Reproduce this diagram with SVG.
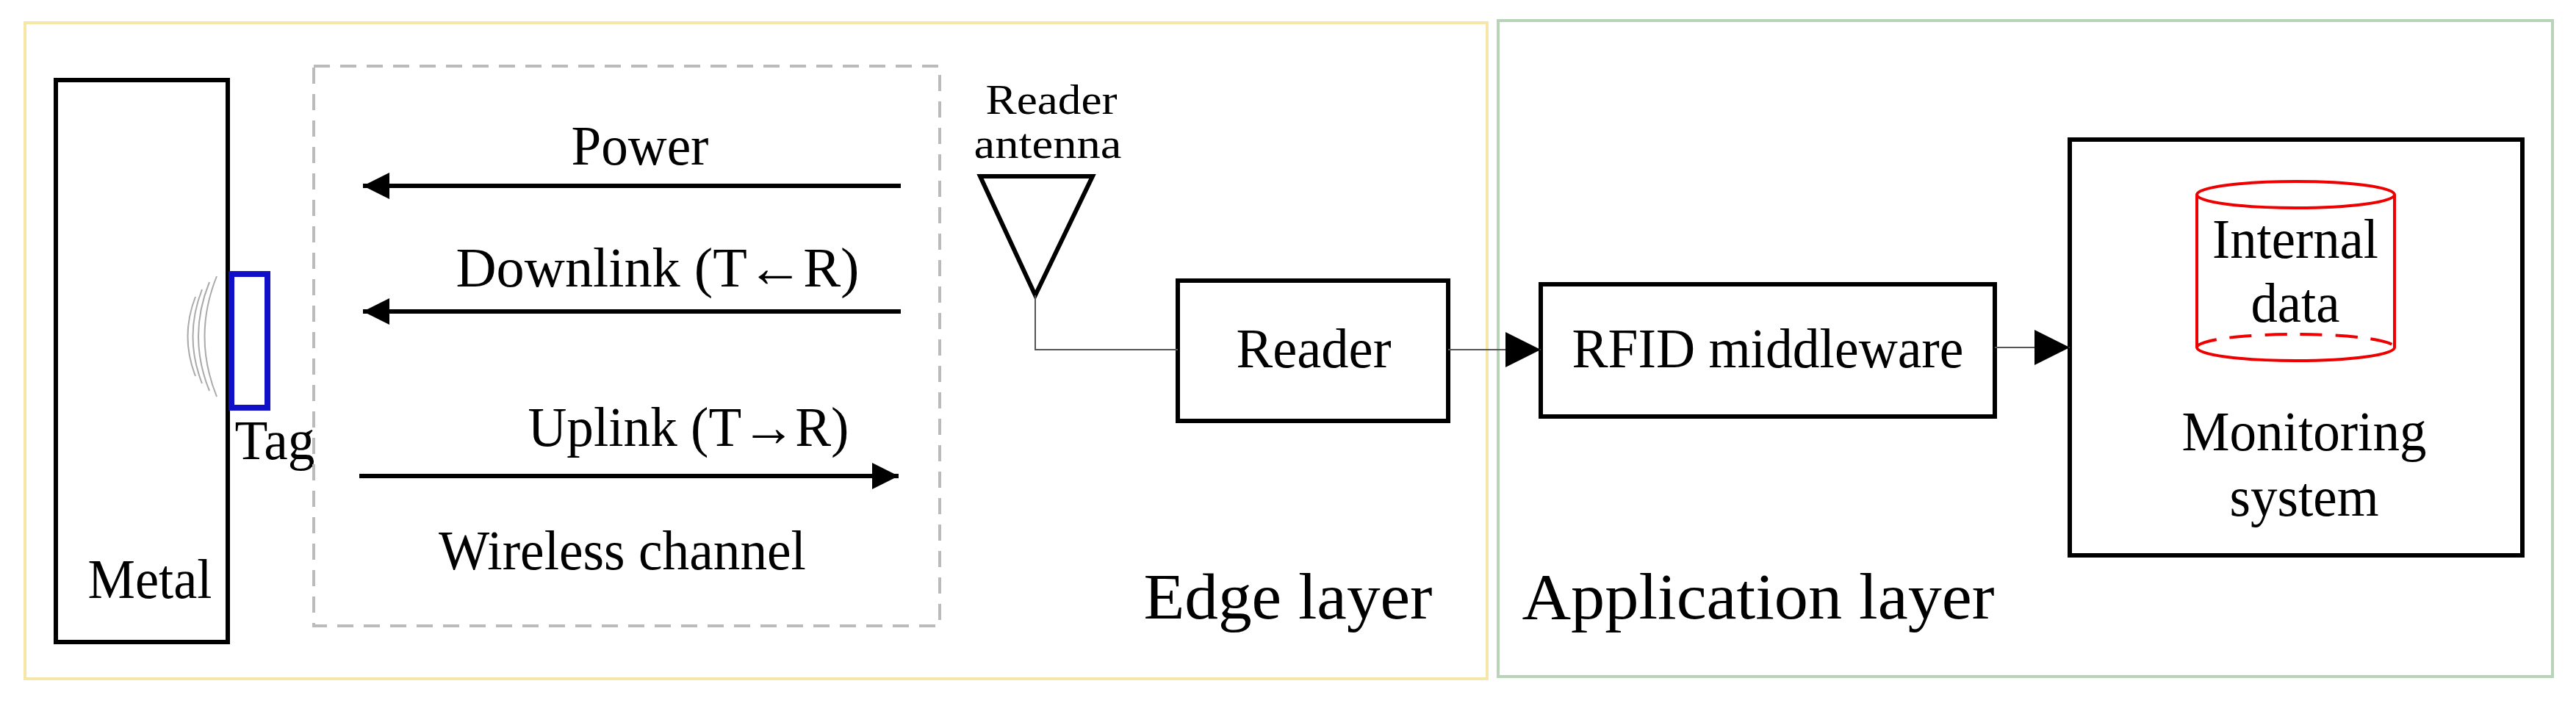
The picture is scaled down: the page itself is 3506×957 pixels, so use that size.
<svg xmlns="http://www.w3.org/2000/svg" width="3506" height="957" viewBox="0 0 3506 957">
<style>
text{font-family:"Liberation Serif","Times New Roman",serif;fill:#000;text-anchor:middle}
.t{font-size:76px}
.box{fill:none;stroke:#000;stroke-width:6}
.thick{stroke:#000;stroke-width:6;fill:none}
.thin{stroke:#555;stroke-width:2;fill:none}
</style>
<defs>
<marker id="ah" viewBox="0 0 10 10" refX="10" refY="5" markerWidth="6" markerHeight="6" markerUnits="strokeWidth" orient="auto"><path d="M0,0L10,5L0,10z" fill="#000"/></marker>
<marker id="ah2" viewBox="0 0 10 10" refX="10" refY="5" markerWidth="24" markerHeight="24" markerUnits="strokeWidth" orient="auto"><path d="M0,0L10,5L0,10z" fill="#000"/></marker>
</defs>
<rect width="3506" height="957" fill="#fff"/>
<g id="edge-layer"><rect x="34" y="31" width="1990" height="893" fill="none" stroke="#f6e7a8" stroke-width="4"/><text x="1753" y="842" style="font-size:88px" textLength="393" lengthAdjust="spacingAndGlyphs">Edge layer</text></g>
<g id="app-layer"><rect x="2039" y="28" width="1435" height="893" fill="none" stroke="#b9d3b9" stroke-width="4"/><text x="2393" y="842" style="font-size:88px" textLength="643" lengthAdjust="spacingAndGlyphs">Application layer</text></g>
<g id="metal"><rect class="box" x="76" y="109" width="234" height="765"/><text class="t" x="204" y="814" textLength="169" lengthAdjust="spacingAndGlyphs">Metal</text></g>
<g id="tag"><rect x="315" y="373" width="49" height="182" fill="none" stroke="#1010c8" stroke-width="8"/>
<g stroke="#aaa" stroke-width="2" fill="none"><path d="M295,376 Q262,458 295,540"/><path d="M285,384 Q255,458 285,532"/><path d="M275,394 Q250,458 275,522"/><path d="M266,404 Q245,458 266,512"/></g>
<text class="t" x="374" y="625" textLength="109" lengthAdjust="spacingAndGlyphs">Tag</text></g>
<g id="wireless-channel"><rect x="427" y="90" width="852" height="762" fill="none" stroke="#bbb" stroke-width="4" stroke-dasharray="22,14"/><text class="t" x="847" y="775" textLength="500" lengthAdjust="spacingAndGlyphs">Wireless channel</text>
<text class="t" x="871" y="224" textLength="187" lengthAdjust="spacingAndGlyphs">Power</text><text class="t" x="895" y="390" textLength="549" lengthAdjust="spacingAndGlyphs">Downlink  (T←R)</text><text class="t" x="937" y="607" textLength="437" lengthAdjust="spacingAndGlyphs">Uplink (T→R)</text></g>
<g id="reader-antenna"><text x="1431" y="155" style="font-size:56px" textLength="179" lengthAdjust="spacingAndGlyphs">Reader</text><text x="1426" y="215" style="font-size:56px" textLength="201" lengthAdjust="spacingAndGlyphs">antenna</text><path d="M1334,240 L1487,240 L1409,402 Z" class="thick"/></g>
<g id="reader"><rect class="box" x="1603" y="382" width="368" height="191"/><text class="t" x="1788" y="500" textLength="211" lengthAdjust="spacingAndGlyphs">Reader</text></g>
<g id="middleware"><rect class="box" x="2097" y="387" width="618" height="180"/><text class="t" x="2406" y="500" textLength="533" lengthAdjust="spacingAndGlyphs">RFID middleware</text></g>
<g id="monitoring"><rect class="box" x="2817" y="190" width="616" height="566"/>
<g stroke="#e00" stroke-width="4" fill="none"><path d="M2990,265 L2990,473 M3259,265 L3259,473"/><ellipse cx="3124.5" cy="265" rx="134.5" ry="18"/><path d="M2990,473 A134.5,18 0 0 0 3259,473"/><path d="M2990,473 A134.5,18 0 0 1 3259,473" stroke-dasharray="30,18"/></g>
<text class="t" x="3124" y="351" textLength="226" lengthAdjust="spacingAndGlyphs">Internal</text><text class="t" x="3124" y="438" textLength="121" lengthAdjust="spacingAndGlyphs">data</text>
<text class="t" x="3136" y="613" textLength="333" lengthAdjust="spacingAndGlyphs">Monitoring</text><text class="t" x="3136" y="702" textLength="203" lengthAdjust="spacingAndGlyphs">system</text></g>
<g id="connectors">
<line x1="1226" y1="253" x2="494" y2="253" class="thick" marker-end="url(#ah)"/>
<line x1="1226" y1="424" x2="494" y2="424" class="thick" marker-end="url(#ah)"/>
<line x1="489" y1="648" x2="1223" y2="648" class="thick" marker-end="url(#ah)"/>
<path d="M1409,402 L1409,476 L1603,476" class="thin"/>
<line x1="1971" y1="476" x2="2097" y2="476" class="thin" marker-end="url(#ah2)"/>
<line x1="2715" y1="473" x2="2817" y2="473" class="thin" marker-end="url(#ah2)"/>
</g>
</svg>
